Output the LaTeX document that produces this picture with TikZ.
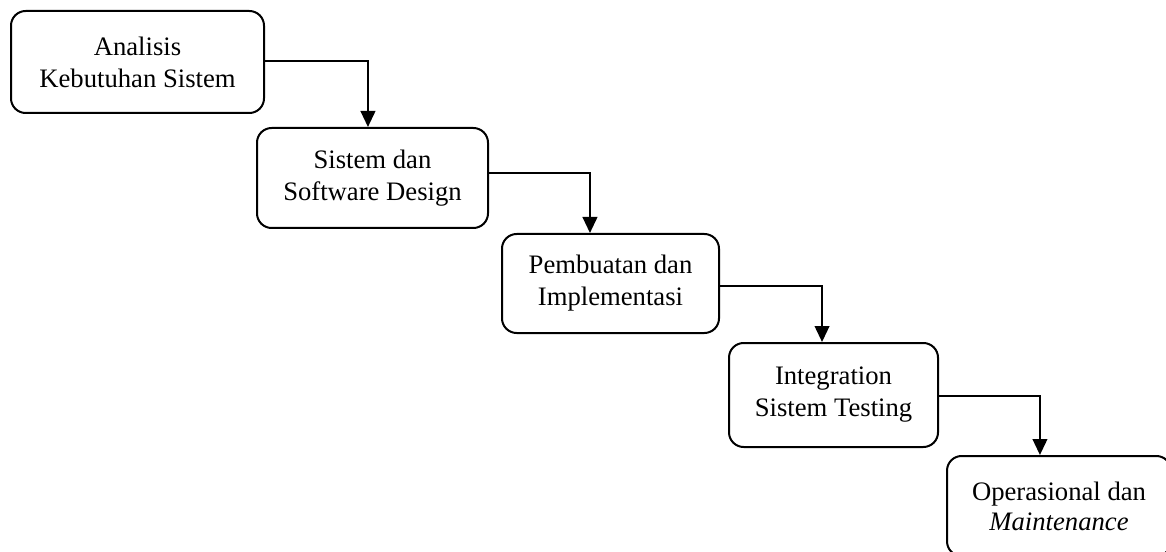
\documentclass[tikz,border=0pt]{standalone}
\usepackage{fontspec}
\setmainfont{Liberation Serif}
\usetikzlibrary{arrows.meta}
\begin{document}
\begin{tikzpicture}[x=0.75pt,y=-0.75pt,
  stagebox/.style={draw, line width=1.5pt, rounded corners=11pt, align=center,
    inner sep=0pt, font=\fontsize{20}{24}\selectfont},
  flowarrow/.style={line width=1.5pt, -{Triangle[length=12pt,width=11pt]}}]
\useasboundingbox (0,0) rectangle (1166,552);
\clip (0,0) rectangle (1166,552);
\node[stagebox, minimum width=253*0.75pt, minimum height=102*0.75pt] (b1) at (137.5,62) {Analisis\\Kebutuhan Sistem};
\node[stagebox, minimum width=231*0.75pt, minimum height=100*0.75pt] (b2) at (372.5,178) {Sistem dan\\Software Design};
\node[stagebox, minimum width=217*0.75pt, minimum height=99*0.75pt] (b3) at (610.5,283.5) {Pembuatan dan\\Implementasi};
\node[stagebox, minimum width=209*0.75pt, minimum height=104*0.75pt] (b4) at (833.5,395) {Integration\\Sistem Testing};
\node[stagebox, minimum width=224*0.75pt, minimum height=100*0.75pt, font=\fontsize{20}{22.5}\selectfont] (b5) at (1059,506) {Operasional dan\\\textit{Maintenance}};
\draw[flowarrow] ([yshift=0.75pt]b1.east) -| ([xshift=-3.4pt]b2.north);
\draw[flowarrow] ([yshift=3.75pt]b2.east) -| ([xshift=-15.4pt]b3.north);
\draw[flowarrow] ([yshift=-1.9pt]b3.east) -| ([xshift=-8.6pt]b4.north);
\draw[flowarrow] ([yshift=-0.75pt]b4.east) -| ([xshift=-14.3pt]b5.north);
\end{tikzpicture}
\end{document}
